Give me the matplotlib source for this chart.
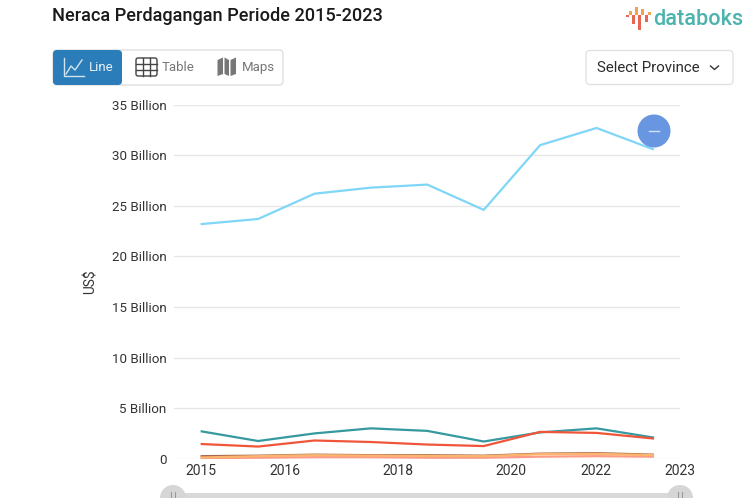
import matplotlib.pyplot as plt
from matplotlib.patches import Circle, FancyBboxPatch, Polygon, Rectangle

plt.rcParams["font.family"] = ["Roboto", "DejaVu Sans"]

years = list(range(2015, 2024))
tick_pos = [-0.02, 1.47, 3.48, 5.48, 6.98, 8.48]
tick_labels = ["2015", "2016", "2018", "2020", "2022", "2023"]
y_ticks = [0, 5, 10, 15, 20, 25, 30, 35]
y_labels = ["0", "5 Billion", "10 Billion", "15 Billion", "20 Billion",
            "25 Billion", "30 Billion", "35 Billion"]

blue = [23.2, 23.7, 26.2, 26.8, 27.1, 24.6, 31.0, 32.7, 30.6]
teal = [2.7, 1.75, 2.5, 3.0, 2.75, 1.7, 2.6, 3.0, 2.1]
red = [1.45, 1.2, 1.8, 1.65, 1.4, 1.25, 2.65, 2.55, 2.0]
brown = [0.25, 0.3, 0.4, 0.35, 0.35, 0.3, 0.5, 0.55, 0.4]
pink = [0.05, 0.1, 0.15, 0.15, 0.1, 0.1, 0.2, 0.25, 0.2]
orange = [0.12, 0.25, 0.35, 0.3, 0.28, 0.25, 0.45, 0.48, 0.35]

W, H = 753, 498
fig = plt.figure(figsize=(W / 100, H / 100), dpi=100)

# plot area, in pixels of the picture
left, right, top, bottom = 173.5, 680, 104.7, 458.7
ax = fig.add_axes([left / W, 1 - bottom / H, (right - left) / W, (bottom - top) / H])
x = list(range(len(years)))
ax.plot(x, blue, color="#7fd6f7", lw=1.6)
ax.plot(x, teal, color="#36999f", lw=1.6)
ax.plot(x, red, color="#f0553a", lw=1.6)
ax.plot(x, brown, color="#a5694f", lw=1.6)
ax.plot(x, pink, color="#fb9a86", lw=1.6)
ax.plot(x, orange, color="#fdb56d", lw=1.6)
ax.set_xlim(-0.5, 8.48)
ax.set_ylim(0, 35)
ax.set_xticks(tick_pos, tick_labels)
ax.set_yticks(y_ticks, y_labels)
ax.tick_params(axis="x", length=0, labelsize=10, labelcolor="#333333", pad=4)
ax.tick_params(axis="y", length=0, labelsize=9.6, labelcolor="#333333", pad=5)
ax.grid(axis="y", color="#e6e6e6", lw=0.9)
ax.set_axisbelow(True)
for s in ax.spines.values():
    s.set_visible(False)
ax.set_ylabel("US$", fontsize=9.8, color="#333333", labelpad=10)

# page furniture drawn over the chart, y runs down like the screenshot
ui = fig.add_axes([0, 0, 1, 1], facecolor="none")
ui.set_xlim(0, W)
ui.set_ylim(H, 0)
ui.axis("off")

ui.text(52, 16, "Neraca Perdagangan Periode 2015-2023", fontsize=13.1, color="#1a1a1a",
        va="center", fontweight="medium")

# button group
ui.add_patch(FancyBboxPatch((53, 50), 230, 35, boxstyle="round,pad=0,rounding_size=4",
                            fc="white", ec="#dcdcdc", lw=0.9))
ui.add_patch(FancyBboxPatch((53, 50), 69, 35, boxstyle="round,pad=0,rounding_size=4",
                            fc="#2a7db8", ec="none"))
ui.plot([64, 64, 84], [58, 76, 76], color="#cfe3f1", lw=1)
ui.plot([66, 71, 75, 82], [74, 66, 70, 60], color="#cfe3f1", lw=1)
ui.text(89, 67.5, "Line", fontsize=9.5, color="#e8f1f8", va="center")
ui.add_patch(FancyBboxPatch((136, 58), 21, 18, boxstyle="round,pad=0,rounding_size=2",
                            fc="none", ec="#444444", lw=1))
for gx in (143, 150):
    ui.plot([gx, gx], [58, 76], color="#444444", lw=1)
for gy in (64, 70):
    ui.plot([136, 157], [gy, gy], color="#444444", lw=1)
ui.text(162, 67.5, "Table", fontsize=9.5, color="#777777", va="center")
# folded map icon
ui.add_patch(Polygon([(217.5, 60), (223, 57.5), (223, 74), (217.5, 76)], fc="#777777", ec="none"))
ui.add_patch(Polygon([(224.5, 57.5), (229, 60), (229, 76), (224.5, 74)], fc="#777777", ec="none"))
ui.add_patch(Polygon([(230.5, 60), (236, 57.5), (236, 74), (230.5, 76)], fc="#777777", ec="none"))
ui.text(242, 67.5, "Maps", fontsize=9.5, color="#777777", va="center")

# province dropdown
ui.add_patch(FancyBboxPatch((586, 50.5), 147, 34, boxstyle="round,pad=0,rounding_size=4",
                            fc="white", ec="#dfdfe6", lw=0.9))
ui.text(597, 67.5, "Select Province", fontsize=10.8, color="#2b2b2b", va="center")
ui.plot([710.5, 714.5, 718.5], [66, 69.5, 66], color="#333333", lw=1)

# logo
for bx, y0, y1, c in ((626, 14.7, 17.3, "#e8654f"), (629, 11, 14.7, "#f0a24e"),
                      (632, 15, 24, "#e8654f"), (635, 7, 14.7, "#f0a24e"),
                      (638, 15, 30, "#e8654f"), (641.2, 8.7, 14.7, "#f0a24e"),
                      (644.7, 15, 22, "#e8654f"), (647.7, 12, 14.7, "#f0a24e")):
    ui.add_patch(Rectangle((bx, y0), 3, y1 - y0, fc=c, ec="none"))
ui.text(653, 19.5, "databoks", fontsize=15.6, color="#4db3ae", va="center", fontweight="medium")

# marker button and slider
ui.add_patch(Circle((654, 131), 16.5, fc="#6896e0", ec="none"))
ui.plot([649, 659], [131, 131], color="#d5e2f6", lw=1)
ui.add_patch(Rectangle((173, 492.5), 507, 6, fc="#d9d9d9", ec="none"))
for cx in (173, 680):
    ui.add_patch(Circle((cx, 498), 13, fc="#d6d6d6", ec="none"))
    ui.plot([cx - 2, cx - 2], [492, 498], color="#999999", lw=0.8)
    ui.plot([cx + 2, cx + 2], [492, 498], color="#999999", lw=0.8)

fig.savefig("out.png", dpi=100)
